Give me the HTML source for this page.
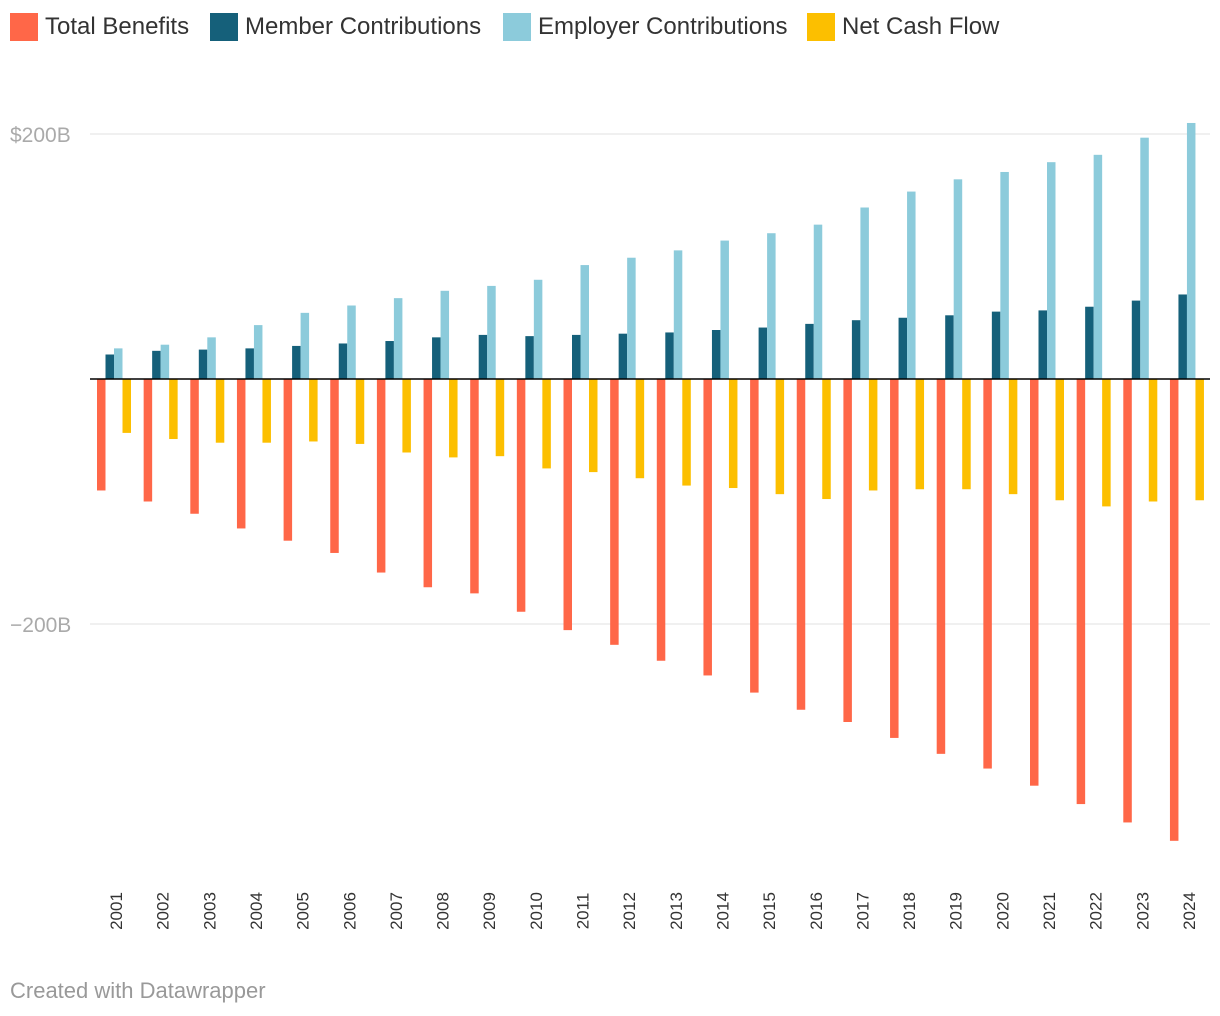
<!DOCTYPE html>
<html><head><meta charset="utf-8"><style>
body{margin:0;background:#fff;font-family:"Liberation Sans",Roboto,sans-serif;}
#wrap{position:relative;width:1220px;height:1016px;overflow:hidden}
.leg{position:absolute;top:13px;display:flex;align-items:center;font-size:24px;color:#333}
.sw{width:28px;height:28px;margin-right:7px;display:inline-block}
</style></head><body><div id="wrap">
<div class="leg" style="left:10px"><span class="sw" style="background:#ff6748"></span>Total Benefits</div>
<div class="leg" style="left:210px"><span class="sw" style="background:#15607a"></span>Member Contributions</div>
<div class="leg" style="left:503px"><span class="sw" style="background:#8ccbdb"></span>Employer Contributions</div>
<div class="leg" style="left:807px"><span class="sw" style="background:#fcbf00"></span>Net Cash Flow</div>
<svg id="svg" width="1220" height="1016" style="position:absolute;left:0;top:0"></svg>
<div style="position:absolute;left:10px;top:978px;font-size:22px;color:#999">Created with Datawrapper</div>
</div>
<script>
const years=[2001,2002,2003,2004,2005,2006,2007,2008,2009,2010,2011,2012,2013,2014,2015,2016,2017,2018,2019,2020,2021,2022,2023,2024];
const totalBenefits=[-91,-100,-110,-122,-132,-142,-158,-170,-175,-190,-205,-217,-230,-242,-256,-270,-280,-293,-306,-318,-332,-347,-362,-377];
const memberContrib=[20,23,24,25,27,29,31,34,36,35,36,37,38,40,42,45,48,50,52,55,56,59,64,69];
const employerContrib=[25,28,34,44,54,60,66,72,76,81,93,99,105,113,119,126,140,153,163,169,177,183,197,209];
const netCashFlow=[-44,-49,-52,-52,-51,-53,-60,-64,-63,-73,-76,-81,-87,-89,-94,-98,-91,-90,-90,-94,-99,-104,-100,-99];
const ticks=[200,0,-200];
const tickLabels=["$200B","","−200B"];
const NS="http://www.w3.org/2000/svg",svg=document.getElementById('svg');
const y=v=>379-v*1.225;
const gx=i=>97+i*46.65;
function el(t,a){const e=document.createElementNS(NS,t);for(const k in a)e.setAttribute(k,a[k]);svg.appendChild(e);return e;}
ticks.forEach((t,i)=>{if(t!==0){const l=el('line',{x1:90,x2:1210,y1:y(t),y2:y(t),stroke:'#e0e0e0','stroke-width':1});


const tx=el('text',{x:10,y:y(t)+8,'font-size':21,fill:'#aaa','font-family':'Liberation Sans,sans-serif'});tx.textContent=tickLabels[i];

}});
const series=[[totalBenefits,'#ff6748',0,'bar-total-benefits'],[memberContrib,'#15607a',8.5,'bar-member-contributions'],[employerContrib,'#8ccbdb',17,'bar-employer-contributions'],[netCashFlow,'#fcbf00',25.5,'bar-net-cash-flow']];
years.forEach((yr,i)=>{
series.forEach(s=>{const v=s[0][i];const r=el('rect',{x:gx(i)+s[2],width:8.5,y:Math.min(y(v),y(0)),height:Math.abs(y(v)-y(0)),fill:s[1]});

});
const cx=gx(i)+19;
const t=el('text',{x:0,y:0,'font-size':17,fill:'#333','font-family':'Liberation Sans,sans-serif','text-anchor':'middle',transform:`translate(${cx+6},911) rotate(-90)`});t.textContent=yr;


});
const z=el('line',{x1:90,x2:1210,y1:y(0),y2:y(0),stroke:'#000','stroke-width':1.5});


</script></body></html>
